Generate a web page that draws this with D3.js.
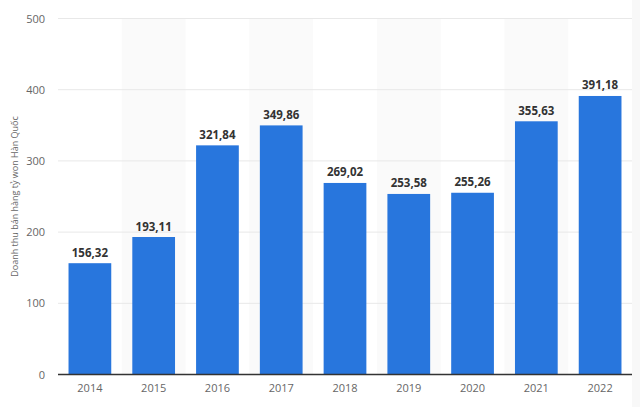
<!DOCTYPE html>
<html><head><meta charset="utf-8">
<script src="https://cdn.jsdelivr.net/npm/d3@7"></script>
<style>body{margin:0;background:#fff}svg{display:block}</style>
</head><body>
<script>
const years = ["2014","2015","2016","2017","2018","2019","2020","2021","2022"];
const values = [156.32,193.11,321.84,349.86,269.02,253.58,255.26,355.63,391.18];
const yTicks = [0,100,200,300,400,500];
const yTitle = "Doanh thu bán hàng tỷ won Hàn Quốc";

const W=640,H=407, m={l:58,r:8,t:18.5,b:32.5};
const svg=d3.select("body").append("svg").attr("width",W).attr("height",H);
const x=d3.scaleBand().domain(years).range([m.l,W-m.r]).paddingInner(0.33).paddingOuter(0.165);
const y=d3.scaleLinear().domain([0,500]).range([H-m.b,m.t]);
const step=x.step();
const font="'Open Sans', sans-serif";

// right edge band
svg.append("rect").attr("x",W-m.r).attr("y",0).attr("width",m.r).attr("height",H).attr("fill","#f8f8f8");
// alternating bands
svg.append("g").selectAll("rect").data(years.filter((d,i)=>i%2===1)).join("rect")
  .attr("x",d=>x(d)-step*x.paddingInner()/2).attr("width",step)
  .attr("y",y(500)).attr("height",y(0)-y(500)).attr("fill","#fafafa");
// grid
svg.append("g").selectAll("line").data(yTicks.slice(1)).join("line")
  .attr("x1",m.l).attr("x2",W-m.r).attr("y1",d=>y(d)).attr("y2",d=>y(d))
  .attr("stroke","#e8e8e8").attr("stroke-width",1);
// y labels
const ya=svg.append("g").attr("transform",`translate(${m.l},0)`)
  .call(d3.axisLeft(y).tickValues(yTicks).tickSize(0).tickPadding(13));
ya.select(".domain").remove();
ya.selectAll("text").attr("font-family",font).attr("font-size",11).attr("fill","#666");
// bars
svg.append("g").selectAll("rect").data(years).join("rect")
  .attr("x",d=>x(d)).attr("width",x.bandwidth())
  .attr("y",(d,i)=>y(values[i])).attr("height",(d,i)=>y(0)-y(values[i]))
  .attr("fill","#2876dd");
// value labels
svg.append("g").selectAll("text").data(years).join("text")
  .attr("x",d=>x(d)+x.bandwidth()/2).attr("y",(d,i)=>y(values[i])-6.5)
  .attr("text-anchor","middle").attr("font-family",font).attr("font-weight","bold")
  .attr("font-size",11.5).attr("fill","#333")
  .text((d,i)=>d3.format(".2f")(values[i]).replace(".",","));
// x axis
const xa=svg.append("g").attr("transform",`translate(0,${y(0)})`)
  .call(d3.axisBottom(x).tickSize(0).tickPadding(10));
xa.select(".domain").attr("stroke","#333").attr("stroke-width",1.5)
  .attr("d",`M${m.l},0H${W-m.r}`);
xa.selectAll("text").attr("font-family",font).attr("font-size",11).attr("fill","#666");
// y title
svg.append("text").attr("transform",`translate(18,${(y(0)+y(500))/2}) rotate(-90)`)
  .attr("text-anchor","middle").attr("font-family",font).attr("font-size",9).attr("fill","#666")
  .text(yTitle);
</script>
</body></html>
